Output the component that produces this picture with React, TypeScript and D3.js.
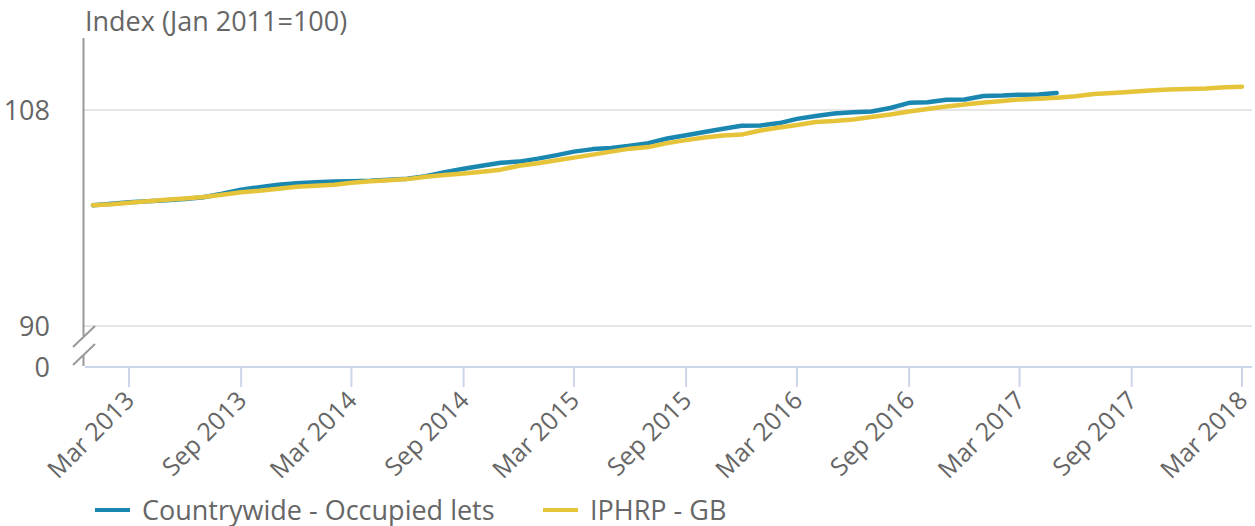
import React from "react";
import * as d3 from "d3";

const startYear = 2013;
const startMonth = 0; // January 2013

const countrywide: number[] = [
  100.06, 100.19, 100.31, 100.4, 100.48, 100.58, 100.73, 101.02, 101.36, 101.57,
  101.78, 101.9, 101.98, 102.05, 102.07, 102.11, 102.19, 102.28, 102.49, 102.82,
  103.11, 103.36, 103.61, 103.7, 103.95, 104.24, 104.53, 104.74, 104.83, 105.03,
  105.24, 105.62, 105.89, 106.16, 106.43, 106.68, 106.71, 106.91, 107.26, 107.5,
  107.71, 107.82, 107.87, 108.17, 108.6, 108.65, 108.85, 108.88, 109.17, 109.21,
  109.28, 109.29, 109.42,
];

const iphrp: number[] = [
  100.06, 100.15, 100.27, 100.4, 100.52, 100.62, 100.75, 100.94, 101.15, 101.27,
  101.44, 101.61, 101.69, 101.78, 101.94, 102.07, 102.15, 102.24, 102.44, 102.59,
  102.7, 102.86, 103.03, 103.36, 103.57, 103.82, 104.03, 104.28, 104.53, 104.78,
  104.91, 105.24, 105.49, 105.7, 105.87, 105.95, 106.29, 106.54, 106.75, 107.0,
  107.08, 107.21, 107.42, 107.62, 107.87, 108.08, 108.29, 108.46, 108.63, 108.75,
  108.88, 108.94, 109.02, 109.15, 109.34, 109.42, 109.52, 109.63, 109.71, 109.75,
  109.8, 109.9, 109.94,
];

const tickLabels: string[] = [
  "Mar 2013", "Sep 2013", "Mar 2014", "Sep 2014", "Mar 2015", "Sep 2015",
  "Mar 2016", "Sep 2016", "Mar 2017", "Sep 2017", "Mar 2018",
];
const yTicks: number[] = [90, 108];
const seriesNames: string[] = ["Countrywide - Occupied lets", "IPHRP - GB"];
const seriesColors: string[] = ["#1a87b0", "#e6c43a"];

const monthDate = (i: number) => new Date(startYear, startMonth + i, 1);
const tickDates = tickLabels.map((_, i) => new Date(2013, 2 + 6 * i, 1));

export default function App() {
  const width = 1255;
  const height = 526;
  const plotLeft = 84;
  const plotRight = 1252;
  const baseY = 366;
  const font = "'Open Sans', sans-serif";
  const textColor = "#666666";

  const x = d3
    .scaleTime()
    .domain([new Date(2013, 0, 1), new Date(2018, 2, 1)])
    .range([93, 1242]);
  const y = d3.scaleLinear().domain([90, 114]).range([326, 38]);

  const line = d3
    .line<number>()
    .x((_, i) => x(monthDate(i)))
    .y((d) => y(d))
    .curve(d3.curveLinear);

  const series = [countrywide, iphrp];
  const legendX = [95, 543];

  return (
    <svg
      width={width}
      height={height}
      style={{ position: "absolute", left: 0, top: 0, background: "#fff" }}
      fontFamily={font}
    >
      {/* gridlines */}
      {yTicks.map((t) => (
        <line
          key={t}
          x1={plotLeft}
          x2={plotRight}
          y1={y(t)}
          y2={y(t)}
          stroke="#e6e6e6"
          strokeWidth={2}
        />
      ))}
      {/* y labels */}
      {yTicks.map((t) => (
        <text
          key={"l" + t}
          x={50}
          y={y(t) + 9.5}
          textAnchor="end"
          fontSize={27}
          fill={textColor}
        >
          {t}
        </text>
      ))}
      <text x={50} y={baseY + 11} textAnchor="end" fontSize={27} fill={textColor}>
        0
      </text>
      {/* title */}
      <text x={85} y={31} fontSize={27} fill={textColor}>
        Index (Jan 2011=100)
      </text>
      {/* y axis line with break */}
      <line x1={83.5} x2={83.5} y1={38} y2={336} stroke="#999999" strokeWidth={2} />
      <line x1={83.5} x2={83.5} y1={355} y2={baseY} stroke="#999999" strokeWidth={2} />
      <line x1={73} y1={347} x2={95} y2={326} stroke="#999999" strokeWidth={2} />
      <line x1={73} y1={365} x2={95} y2={344} stroke="#999999" strokeWidth={2} />
      {/* x axis */}
      <line x1={plotLeft + 1} x2={plotRight} y1={baseY + 1} y2={baseY + 1} stroke="#ccd6eb" strokeWidth={2} />
      {tickDates.map((d, i) => {
        const tx = x(d);
        return (
          <g key={i}>
            <line x1={tx} x2={tx} y1={baseY + 1} y2={baseY + 21} stroke="#ccd6eb" strokeWidth={2} />
            <text
              transform={`translate(${tx + 7},${baseY + 36}) rotate(-45)`}
              textAnchor="end"
              fontSize={25}
              fill={textColor}
            >
              {tickLabels[i]}
            </text>
          </g>
        );
      })}
      {/* series */}
      {series.map((s, i) => (
        <path
          key={i}
          d={line(s) || ""}
          fill="none"
          stroke={seriesColors[i]}
          strokeWidth={4.5}
          strokeLinejoin="round"
          strokeLinecap="round"
        />
      ))}
      {/* legend */}
      {seriesNames.map((n, i) => {
        const lx = legendX[i];
        return (
          <g key={n}>
            <line x1={lx} x2={lx + 35} y1={510} y2={510} stroke={seriesColors[i]} strokeWidth={4} />
            <text x={lx + 47} y={519.5} fontSize={27} fill={textColor}>
              {n}
            </text>
          </g>
        );
      })}
    </svg>
  );
}
